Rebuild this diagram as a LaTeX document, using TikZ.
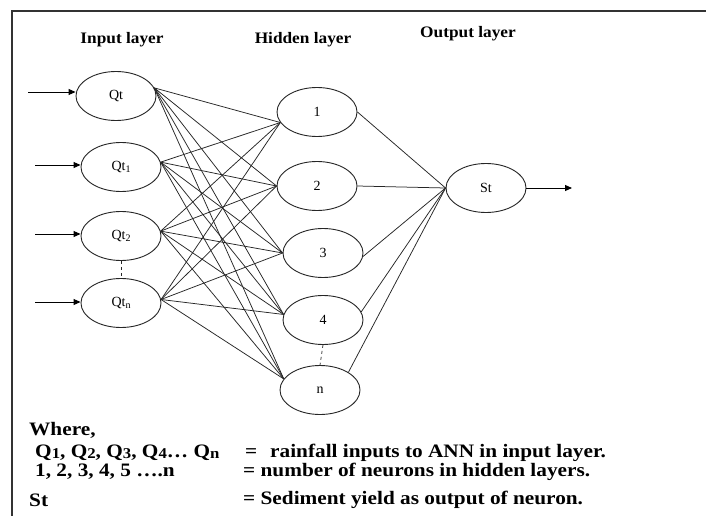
\documentclass[tikz,border=0pt]{standalone}
\usepackage{fontspec}
\setmainfont{Liberation Serif}
\newfontfamily\legendfont[FakeStretch=1.12]{Liberation Serif}
\newfontfamily\headfont[FakeStretch=1.08]{Liberation Serif}
\usetikzlibrary{arrows.meta,shapes.geometric}
\newcommand{\sbs}[1]{\raisebox{-0.25ex}{\fontsize{10}{10}\selectfont #1}}
\newcommand{\lsbs}[1]{\raisebox{-0.1ex}{\fontsize{15}{15}\selectfont #1}}
\begin{document}
\begin{tikzpicture}[x=1pt,y=-1pt,
  neuron/.style={draw=black!85, line width=0.9pt, ellipse, minimum width=80pt,
    minimum height=49pt, inner sep=0pt, font=\fontsize{14}{14}\selectfont},
  link/.style={draw=black!85, line width=0.75pt},
  inarrow/.style={draw=black, line width=0.9pt, -{Triangle[length=7pt,width=6pt]}},
  heading/.style={font=\headfont\bfseries\fontsize{16}{16}\selectfont, inner sep=0pt},
  legend/.style={font=\legendfont\bfseries\fontsize{19}{20}\selectfont, anchor=west, inner sep=0pt},
  gap/.style={draw=black!85, line width=0.7pt, dash pattern=on 3pt off 3pt}
  ]
\useasboundingbox (0,0) rectangle (706,516);
\fill[white] (0,0) rectangle (706,516);
% frame
\draw[black!80, line width=1.5pt] (12,516) -- (12,11) -- (706,11);

% headings
\node[heading] (hin) at (122,40) {Input layer};
\node[heading] (hhid) at (303,40) {Hidden layer};
\node[heading] (hout) at (468,34) {Output layer};

% input layer
\node[neuron] (Qt) at (116,96) {Qt};
\node[neuron] (Qa) at (121,167) {Qt\sbs{1}};
\node[neuron] (Qb) at (121,236) {Qt\sbs{2}};
\node[neuron] (Qn) at (121,303) {Qt\sbs{n}};

% hidden layer
\node[neuron] (h1) at (317,112) {1};
\node[neuron] (h2) at (317,186) {2};
\node[neuron] (h3) at (323,253) {3};
\node[neuron] (h4) at (323,320) {4};
\node[neuron] (hn) at (320,390) {n};

% output
\node[neuron] (St) at (486,188) {St};

% input arrows
\coordinate (i0) at (28,92);
\coordinate (i1) at (35,165);
\coordinate (i2) at (35,234);
\coordinate (i3) at (35,302);
\draw[inarrow] (i0) -- (Qt.west |- i0);
\draw[inarrow] (i1) -- (Qa.west |- i1);
\draw[inarrow] (i2) -- (Qb.west |- i2);
\draw[inarrow] (i3) -- (Qn.west |- i3);

% output arrow
\coordinate (o0) at (572,188);
\draw[inarrow] (St.east) -- (o0);

% input -> hidden links
\foreach \i/\a in {Qt/12, Qa/7, Qb/7, Qn/5}
  \foreach \h/\b in {h1/196, h2/180, h3/180, h4/172, hn/163}
    \draw[link] (\i.\a) -- (\h.\b);

% hidden -> output links
\draw[link] (h1.east) -- (St.west);
\draw[link] (h2.east) -- (St.west);
\draw[link] (h3.355) -- (St.west);
\draw[link] (h4.12) -- (St.west);
\draw[link] (hn.32) -- (St.west);

% gaps
\draw[gap] (Qb.south) -- (Qn.north);
\draw[gap] (h4.south) -- (hn.north);

% legend
\node[legend] (w) at (29,430) {Where,};
\node[legend] (l1) at (35,453) {Q\lsbs{1}, Q\lsbs{2}, Q\lsbs{3}, Q\lsbs{4}… Q\lsbs{n}};
\node[legend] (e1) at (245,453) {=};
\node[legend] (d1) at (270,453) {rainfall inputs to ANN in input layer.};
\node[legend] (l2) at (35,472) {1, 2, 3, 4, 5 ….n};
\node[legend] (d2) at (243,472) {= number of neurons in hidden layers.};
\node[legend] (l3) at (29,500) {St};
\node[legend] (d3) at (243,500) {= Sediment yield as output of neuron.};
\end{tikzpicture}
\end{document}
